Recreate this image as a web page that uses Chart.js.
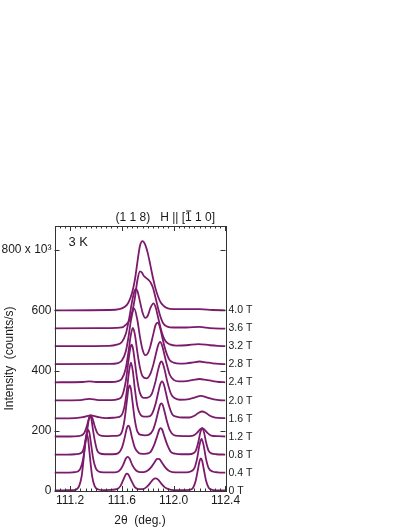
<!DOCTYPE html>
<html>
<head>
<meta charset="utf-8">
<script src="https://cdn.jsdelivr.net/npm/chart.js@4"></script>
<style>
  html, body { margin: 0; padding: 0; background: #fff; }
  canvas { display: block; }
</style>
</head>
<body>
<canvas id="scanChart" width="409" height="529"></canvas>
<script>
// 2theta scans of (1 1 8) at 3 K, one per field, stacked (values in 10^3 counts/s as plotted)
const scan0T = [[111.08,2],[111.15,2],[111.20,3],[111.24,4],[111.27,16],[111.29,50],[111.31,129],[111.32,171],[111.33,188],[111.34,171],[111.35,129],[111.37,50],[111.39,16],[111.42,5],[111.46,3],[111.52,4],[111.56,6],[111.59,17],[111.61,36],[111.63,55],[111.64,58],[111.65,55],[111.67,37],[111.70,13],[111.73,6],[111.76,6],[111.79,13],[111.82,27],[111.84,38],[111.86,42],[111.88,38],[111.90,27],[111.93,13],[111.96,6],[112.00,3],[112.06,3],[112.12,4],[112.15,11],[112.17,34],[112.19,78],[112.20,100],[112.21,108],[112.22,100],[112.23,78],[112.25,34],[112.27,11],[112.30,4],[112.34,2],[112.40,2]];
const scan04T = [[111.08,61],[111.16,61],[111.22,62],[111.26,65],[111.28,74],[111.30,104],[111.32,163],[111.33,192],[111.34,203],[111.35,192],[111.36,163],[111.38,104],[111.40,74],[111.42,65],[111.46,62],[111.52,62],[111.56,63],[111.59,72],[111.61,87],[111.63,107],[111.645,113],[111.66,107],[111.68,87],[111.71,68],[111.74,63],[111.77,63],[111.80,68],[111.83,81],[111.85,94],[111.87,106],[111.88,107],[111.89,106],[111.91,94],[111.93,81],[111.96,68],[111.99,63],[112.04,62],[112.10,62],[112.13,65],[112.16,76],[112.18,106],[112.20,154],[112.215,173],[112.23,154],[112.25,106],[112.27,76],[112.30,65],[112.34,62],[112.40,61]];
const scan08T = [[111.08,121],[111.18,121],[111.24,122],[111.28,125],[111.30,134],[111.32,170],[111.335,209],[111.345,239],[111.355,251],[111.365,239],[111.375,209],[111.39,170],[111.41,134],[111.43,125],[111.47,122],[111.53,122],[111.57,125],[111.60,143],[111.62,174],[111.64,211],[111.65,217],[111.66,211],[111.68,174],[111.70,144],[111.73,126],[111.76,123],[111.79,124],[111.82,129],[111.85,154],[111.87,179],[111.89,205],[111.90,209],[111.91,205],[111.93,179],[111.95,154],[111.98,129],[112.01,124],[112.06,122],[112.12,122],[112.15,125],[112.17,133],[112.19,162],[112.205,193],[112.22,209],[112.235,193],[112.25,162],[112.27,133],[112.29,125],[112.33,122],[112.40,121]];
const scan12T = [[111.08,181],[111.20,181],[111.26,182],[111.29,185],[111.31,193],[111.33,216],[111.345,239],[111.36,251],[111.375,239],[111.39,216],[111.41,193],[111.43,185],[111.47,182],[111.53,183],[111.57,184],[111.60,196],[111.62,235],[111.64,303],[111.65,338],[111.66,351],[111.67,339],[111.68,304],[111.70,236],[111.72,197],[111.75,186],[111.78,185],[111.81,187],[111.84,202],[111.86,228],[111.88,263],[111.895,286],[111.905,291],[111.915,286],[111.93,263],[111.95,228],[111.97,202],[112.00,186],[112.04,183],[112.10,182],[112.15,184],[112.18,193],[112.20,203],[112.22,209],[112.24,203],[112.26,193],[112.29,184],[112.34,182],[112.40,181]];
const scan16T = [[111.08,241],[111.24,242],[111.30,245],[111.33,249],[111.36,251],[111.39,249],[111.42,245],[111.48,242],[111.55,244],[111.59,248],[111.62,280],[111.64,339],[111.655,396],[111.67,426],[111.685,397],[111.70,340],[111.72,281],[111.74,256],[111.77,247],[111.80,247],[111.83,254],[111.86,289],[111.88,326],[111.895,353],[111.91,364],[111.925,353],[111.94,326],[111.96,289],[111.99,254],[112.02,247],[112.07,244],[112.12,244],[112.16,250],[112.19,259],[112.22,264],[112.25,259],[112.28,250],[112.32,244],[112.40,242]];
const scan20T = [[111.08,301],[111.28,302],[111.35,306],[111.42,302],[111.52,302],[111.57,305],[111.60,314],[111.63,364],[111.65,429],[111.665,475],[111.675,486],[111.685,475],[111.70,430],[111.72,366],[111.74,325],[111.77,309],[111.80,310],[111.83,322],[111.86,364],[111.88,403],[111.895,425],[111.905,430],[111.915,425],[111.93,403],[111.95,364],[111.98,322],[112.01,308],[112.05,303],[112.12,305],[112.16,310],[112.21,316],[112.26,310],[112.30,305],[112.35,302],[112.40,301]];
const scan24T = [[111.08,361],[111.30,362],[111.35,364],[111.40,362],[111.52,362],[111.57,365],[111.60,373],[111.63,407],[111.65,459],[111.67,520],[111.685,542],[111.70,521],[111.72,460],[111.74,409],[111.76,381],[111.79,374],[111.82,389],[111.845,423],[111.865,459],[111.88,484],[111.895,495],[111.91,484],[111.925,459],[111.945,423],[111.97,386],[112.00,369],[112.04,364],[112.10,365],[112.15,369],[112.20,372],[112.25,369],[112.30,365],[112.35,362],[112.40,361]];
const scan28T = [[111.08,421],[111.50,422],[111.57,425],[111.60,433],[111.63,463],[111.65,508],[111.67,566],[111.695,606],[111.72,567],[111.74,511],[111.76,469],[111.78,451],[111.80,457],[111.82,481],[111.84,516],[111.86,551],[111.875,559],[111.89,550],[111.91,514],[111.93,478],[111.95,451],[111.97,434],[112.00,426],[112.05,423],[112.10,424],[112.15,427],[112.20,430],[112.25,427],[112.30,424],[112.35,422],[112.40,421]];
const scan32T = [[111.08,481],[111.50,482],[111.56,486],[111.60,495],[111.63,521],[111.655,570],[111.68,632],[111.695,661],[111.708,671],[111.72,664],[111.74,629],[111.76,592],[111.78,575],[111.80,582],[111.82,607],[111.844,623],[111.86,611],[111.88,576],[111.90,540],[111.92,512],[111.94,496],[111.97,487],[112.02,483],[112.10,484],[112.19,488],[112.28,484],[112.34,482],[112.40,481]];
const scan36T = [[111.08,540],[111.50,541],[111.60,543],[111.63,552],[111.66,568],[111.68,595],[111.70,640],[111.72,700],[111.74,729],[111.755,725],[111.77,714],[111.79,707],[111.81,699],[111.825,690],[111.84,675],[111.86,642],[111.88,606],[111.90,576],[111.92,556],[111.95,546],[112.00,543],[112.10,543],[112.20,545],[112.28,541],[112.40,539]];
const scan40T = [[111.08,600],[111.50,601],[111.58,604],[111.62,611],[111.65,625],[111.68,660],[111.70,700],[111.72,760],[111.74,815],[111.76,830],[111.78,818],[111.80,790],[111.82,750],[111.84,708],[111.86,672],[111.88,645],[111.90,626],[111.93,612],[111.97,605],[112.05,604],[112.20,604],[112.30,601],[112.40,600]];

const scans = [scan0T, scan04T, scan08T, scan12T, scan16T, scan20T, scan24T, scan28T, scan32T, scan36T, scan40T];
const fieldLabels = ['0 T', '0.4 T', '0.8 T', '1.2 T', '1.6 T', '2.0 T', '2.4 T', '2.8 T', '3.2 T', '3.6 T', '4.0 T'];
const fieldOffsets = [0, 60, 120, 180, 240, 300, 360, 420, 480, 540, 600];
const xTickValues = [111.2, 111.6, 112.0, 112.4];
const yTickValues = [0, 200, 400, 600, 800];

const lineColor = '#7c1a6c';
const inkColor = '#1a1a1a';
const fontFamily = '"Liberation Sans", Arial, Helvetica, sans-serif';

Chart.defaults.font.family = fontFamily;
Chart.defaults.color = inkColor;

// box, inward ticks on all four sides, plot title and temperature note
const frameTicks = {
  id: 'frameTicks',
  afterDatasetsDraw(chart) {
    const { ctx, chartArea: a, scales: { x, y } } = chart;
    ctx.save();
    ctx.strokeStyle = '#333';
    ctx.lineWidth = 1;
    ctx.strokeRect(Math.round(a.left) + 0.5, Math.round(a.top) + 0.5,
      Math.round(a.right - a.left), Math.round(a.bottom - a.top));

    ctx.beginPath();
    const minorStep = 0.04;
    for (let i = 0; ; i++) {
      const v = x.min + i * minorStep;
      if (v > x.max + 1e-6) break;
      const q = (v - xTickValues[0]) / 0.4;
      const major = Math.abs(q - Math.round(q)) < 1e-4;
      const len = major ? 5 : 2.5;
      const px = Math.round(x.getPixelForValue(v)) + 0.5;
      ctx.moveTo(px, a.bottom); ctx.lineTo(px, a.bottom - len);
      ctx.moveTo(px, a.top); ctx.lineTo(px, a.top + len);
    }
    yTickValues.forEach(v => {
      const py = Math.round(y.getPixelForValue(v)) + 0.5;
      ctx.moveTo(a.left, py); ctx.lineTo(a.left + 5, py);
      ctx.moveTo(a.right, py); ctx.lineTo(a.right - 5, py);
    });
    ctx.stroke();

    // title with the bar over the first index
    ctx.fillStyle = inkColor;
    ctx.font = '12px ' + fontFamily;
    ctx.textBaseline = 'middle';
    ctx.textAlign = 'left';
    const tx = a.left + 61, ty = a.top - 8.5;
    const part1 = '(1 1 8)   H || [';
    const w1 = ctx.measureText(part1).width;
    const wOne = ctx.measureText('1').width;
    ctx.fillText(part1, tx, ty);
    ctx.fillText('1', tx + w1, ty);
    ctx.fillText(' 1 0]', tx + w1 + wOne, ty);
    ctx.fillRect(tx + w1 + 1, ty - 7, wOne - 1.5, 1);

    ctx.font = '13px ' + fontFamily;
    ctx.fillText('3 K', a.left + 14, a.top + 16);
    ctx.restore();
  }
};

new Chart(document.getElementById('scanChart'), {
  type: 'line',
  data: {
    datasets: scans.map((s, i) => ({
      label: fieldLabels[i],
      data: s.map(([x, y]) => ({ x, y })),
      borderColor: lineColor,
      borderWidth: 1.8,
      pointRadius: 0,
      cubicInterpolationMode: 'monotone',
      fill: false
    }))
  },
  options: {
    responsive: false,
    animation: false,
    layout: { padding: { top: 226, right: 0, bottom: 0, left: 0 } },
    plugins: { legend: { display: false }, tooltip: { enabled: false } },
    scales: {
      x: {
        type: 'linear',
        min: 111.08,
        max: 112.4,
        grid: { display: false, drawTicks: false },
        border: { display: false },
        afterBuildTicks: s => { s.ticks = xTickValues.map(v => ({ value: v })); },
        ticks: { callback: v => v.toFixed(1), padding: 2, font: { size: 12 }, maxRotation: 0, autoSkip: false },
        title: { display: true, text: '2θ  (deg.)', font: { size: 12 }, padding: { top: 2, bottom: 1 } },
        afterFit: s => { s.height = 38; }
      },
      y: {
        min: 0,
        max: 880,
        grid: { display: false, drawTicks: false },
        border: { display: false },
        afterBuildTicks: s => { s.ticks = yTickValues.map(v => ({ value: v })); },
        ticks: { callback: v => (v === 800 ? '800 x 10³' : String(v)), padding: 3, font: { size: 12 }, autoSkip: false },
        title: { display: true, text: 'Intensity  (counts/s)', font: { size: 12 }, padding: { top: 2, bottom: 0 } },
        afterFit: s => { s.width = 54.5; }
      },
      y2: {
        position: 'right',
        min: 0,
        max: 880,
        grid: { display: false, drawTicks: false },
        border: { display: false },
        afterBuildTicks: s => { s.ticks = fieldOffsets.map(v => ({ value: v })); },
        ticks: { callback: (v, i) => fieldLabels[i], padding: 3, font: { size: 10.5 }, autoSkip: false },
        afterFit: s => { s.width = 183.5; }
      }
    }
  },
  plugins: [frameTicks]
});
</script>
</body>
</html>
